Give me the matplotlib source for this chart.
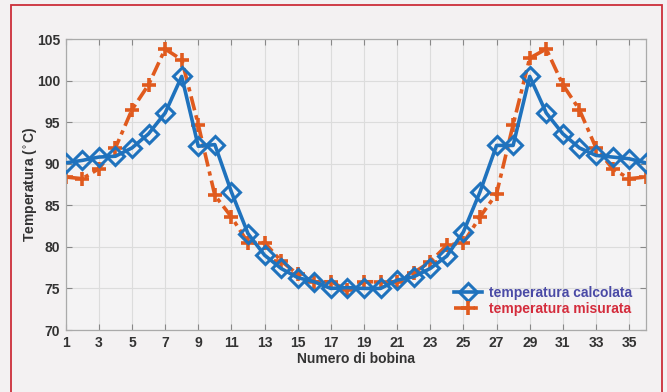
import matplotlib
matplotlib.use("Agg")
from matplotlib import pyplot as plt
from matplotlib.patches import Rectangle

plt.rcParams['font.family'] = ['Liberation Sans', 'DejaVu Sans']

# bobine numbered 1..36
bobine = list(range(1, 37))

temp_calcolata = [90.1, 90.4, 90.8, 90.9, 91.9, 93.6, 96.1, 100.5, 92.1, 92.3,
                  86.6, 81.6, 79.0, 77.4, 76.3, 75.8, 75.0, 75.1, 75.0, 75.0,
                  76.0, 76.4, 77.4, 78.9, 81.8, 86.6, 92.2, 92.2, 100.5, 96.1,
                  93.6, 91.9, 91.0, 90.8, 90.6, 90.1]

temp_misurata = [88.4, 88.2, 89.4, 91.9, 96.5, 99.5, 103.8, 102.5, 94.7, 86.2,
                 83.6, 80.5, 80.5, 78.3, 76.7, 75.8, 75.8, 74.8, 75.8, 75.8,
                 75.8, 76.9, 78.2, 80.2, 80.5, 83.6, 86.4, 94.7, 102.7, 103.8,
                 99.5, 96.5, 91.9, 89.4, 88.2, 88.4]

x_ticks = list(range(1, 37, 2))
y_ticks = [70, 75, 80, 85, 90, 95, 100, 105]

BLUE = '#1f72bd'
ORANGE = '#e05a1e'
TEXT = '#333333'


def plot_temperature():
   fig = plt.figure(figsize=(6.67, 3.92), dpi=100)
   fig.patch.set_facecolor('#f3f1f2')

   # thin red frame around the panel
   fig.patches.append(Rectangle((11 / 667, -0.05), 651 / 667, 1.05 - 5 / 392,
                                transform=fig.transFigure, fill=False,
                                edgecolor='#cc2f3a', linewidth=1.3))

   ax = fig.add_axes([65.7 / 667, 1 - 330 / 392, 580 / 667, 291 / 392])
   ax.set_facecolor('#f4f3f4')

   ax.plot(bobine, temp_calcolata, '-D', color=BLUE, linewidth=2.6,
           markersize=9, markerfacecolor='none', markeredgewidth=2.2,
           label='temperatura calcolata', zorder=3)
   ax.plot(bobine, temp_misurata, '-.+', color=ORANGE, linewidth=2.6,
           dashes=(4, 1.4, 1.2, 1.4), markersize=10, markeredgewidth=2.6,
           label='temperatura misurata', zorder=2)

   ax.set_xlim(1, 36)
   ax.set_ylim(70, 105)
   ax.set_xticks(x_ticks)
   ax.set_yticks(y_ticks)
   ax.grid(True, color='#dcdcdc', linewidth=0.8)
   ax.set_axisbelow(True)
   ax.tick_params(direction='in', length=4, color='#888888',
                  top=True, right=True, labelsize=10, labelcolor=TEXT, pad=4)
   for lbl in ax.get_xticklabels() + ax.get_yticklabels():
      lbl.set_fontweight('bold')
   for spine in ax.spines.values():
      spine.set_color('#aaaaaa')
      spine.set_linewidth(0.9)

   ax.set_xlabel('Numero di bobina', fontsize=10, fontweight='bold',
                 color=TEXT, labelpad=2)
   ax.set_ylabel('Temperatura ($^{\\circ}$C)', fontsize=10,
                 fontweight='bold', color=TEXT)
   ax.yaxis.set_label_coords(-0.046, 0.5)

   leg = ax.legend(loc='lower right', frameon=False,
                   handlelength=2.0, borderaxespad=0.6, labelspacing=0.15,
                   handletextpad=0.5, prop={'weight': 'bold', 'size': 10})
   leg.get_texts()[0].set_color('#4a4aa6')
   leg.get_texts()[1].set_color('#d42c3c')

   fig.savefig('out.png', dpi=100, facecolor=fig.get_facecolor())


def main():
   plot_temperature()


if __name__ == "__main__":
   main()
